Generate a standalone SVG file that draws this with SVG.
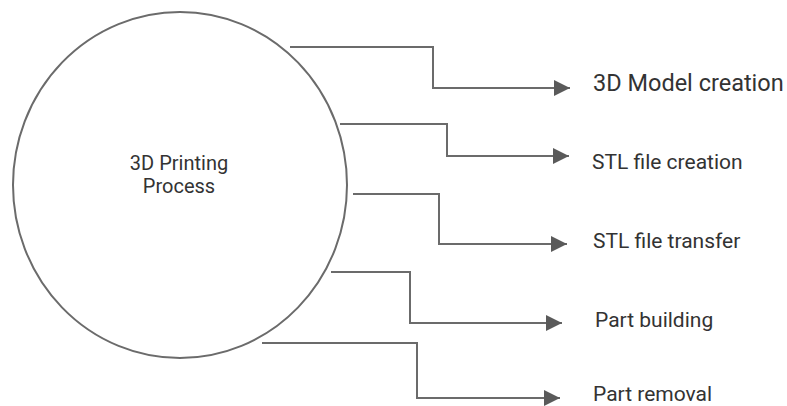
<svg xmlns="http://www.w3.org/2000/svg" width="787" height="406" viewBox="0 0 787 406">
<style>
.ln{fill:none;stroke:#6b6b6b;stroke-width:2}
.t{font-family:Roboto,"Liberation Sans",sans-serif;fill:#333}
.c{font-size:20px}
.lb{font-size:21px}
.big{font-size:23.5px}
</style>
<defs>
<marker id="ah" viewBox="0 0 16 16" refX="16" refY="8" markerWidth="16" markerHeight="16" markerUnits="userSpaceOnUse" orient="auto">
<path d="M0,0 L16,8 L0,16 Z" fill="#5a5a5a"/>
</marker>
</defs>
<rect width="787" height="406" fill="#fff"/>
<g id="process">
<ellipse cx="180" cy="185" rx="167" ry="173" fill="#fff" stroke="#6b6b6b" stroke-width="2"/>
<text class="t c" x="179" y="170" text-anchor="middle">3D Printing</text>
<text class="t c" x="179" y="193" text-anchor="middle">Process</text>
</g>
<g id="connectors">
<path class="ln" marker-end="url(#ah)" d="M290,47 H433 V88 H570"/>
<path class="ln" marker-end="url(#ah)" d="M340,124 H447 V156 H569"/>
<path class="ln" marker-end="url(#ah)" d="M353,194 H439 V244 H567"/>
<path class="ln" marker-end="url(#ah)" d="M331,272 H410 V323 H562"/>
<path class="ln" marker-end="url(#ah)" d="M262,343 H417 V398 H560"/>
</g>
<g id="n1"><text class="t big" x="593" y="91">3D Model creation</text></g>
<g id="n2"><text class="t lb" x="592" y="169">STL file creation</text></g>
<g id="n3"><text class="t lb" x="593" y="248">STL file transfer</text></g>
<g id="n4"><text class="t lb" x="595" y="327">Part building</text></g>
<g id="n5"><text class="t lb" x="593" y="401">Part removal</text></g>
</svg>
